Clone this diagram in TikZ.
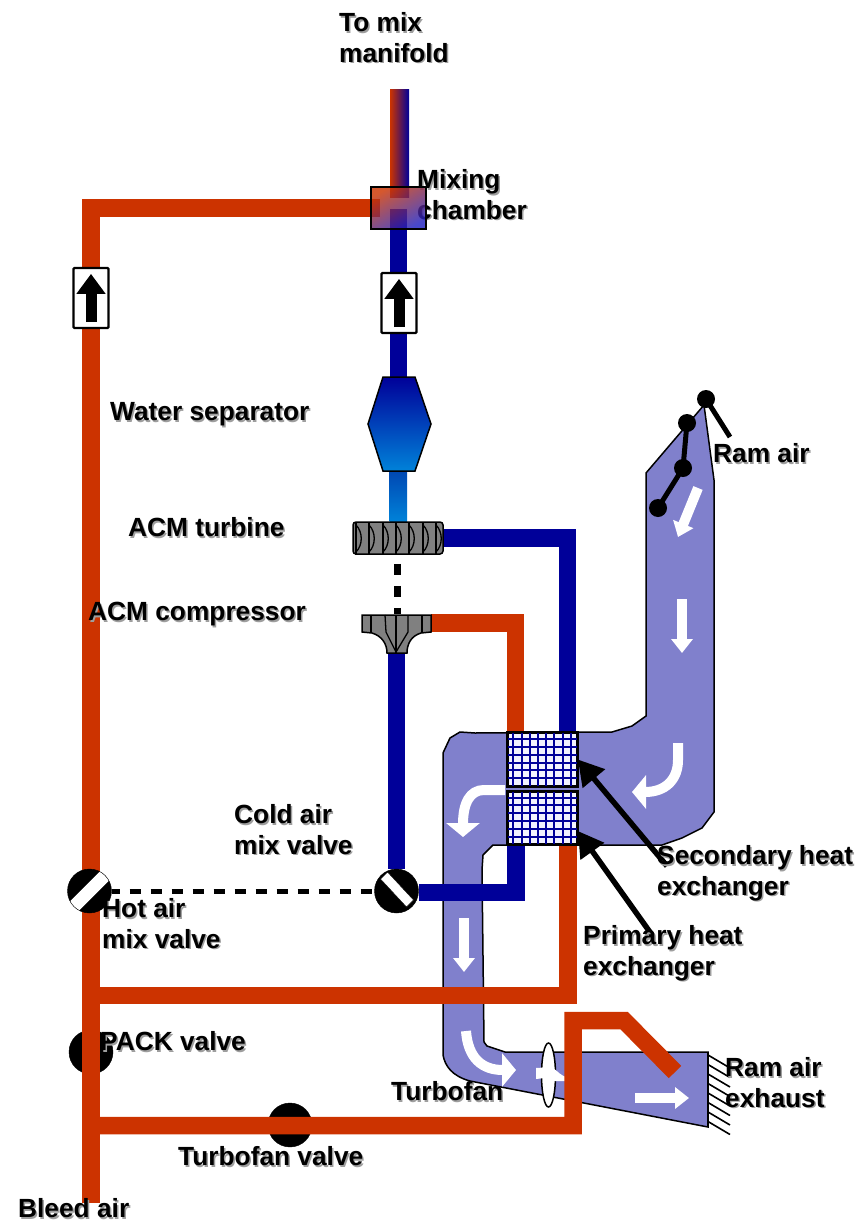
\documentclass[tikz,border=0pt]{standalone}
\usepackage{fontspec}
\setmainfont{Liberation Sans}
\usepackage{tikz}
\usetikzlibrary{arrows.meta,shapes,positioning,calc}
\definecolor{hotred}{HTML}{CC3300}
\definecolor{coldblue}{HTML}{000099}
\definecolor{mixblue}{HTML}{2020C0}
\definecolor{ductblue}{HTML}{8080CC}
\definecolor{bodygray}{HTML}{808080}
\pgfdeclarelayer{behind}
\pgfsetlayers{behind,main}
\tikzset{
  pipe/.style     = {line width=17.5pt, line join=miter},
  hotpipe/.style  = {pipe, draw=hotred},
  coldpipe/.style = {pipe, draw=coldblue},
  duct/.style     = {draw=black, fill=ductblue, line width=1.5pt},
  flow/.style     = {draw=white, line width=10pt, -{Triangle[length=14pt,width=21pt]}},
  bigflow/.style  = {draw=white, line width=10pt, -{Triangle[length=14pt,width=33pt]}},
  pointer/.style  = {draw=black, line width=5.5pt, -{Triangle[length=25pt,width=28pt]}},
  shaft/.style    = {draw=black, line width=7pt, dash pattern=on 11pt off 11pt, dash phase=13pt},
  link/.style     = {draw=black, line width=5pt, dash pattern=on 11pt off 10pt, dash phase=3pt},
  checkvalve/.style = {draw=black, fill=white, line width=2.2pt, rounded corners=1pt,
                       minimum width=35pt, minimum height=60pt, inner sep=0pt},
  checkarrow/.style = {draw=black, line width=11pt, -{Triangle[length=20pt,width=28pt]}},
  valve/.style    = {circle, draw=black, fill=black, minimum size=44pt, inner sep=0pt},
  hxcore/.style   = {draw=black, fill=white!95!blue, line width=1.8pt, minimum width=69pt,
                     minimum height=52.5pt, inner sep=0pt},
  hxgrid/.style   = {draw=coldblue, line width=2pt},
  machine/.style  = {draw=black, fill=bodygray, line width=1.5pt},
  blade/.style    = {draw=black, line width=1.3pt},
  vane/.style     = {circle, fill=black, minimum size=18pt, inner sep=0pt},
  vanearm/.style  = {draw=black, line width=5pt},
  tag/.style      = {anchor=north west, inner sep=0pt, align=left,
                     font=\fontsize{26.3}{30.5}\selectfont\bfseries}
}
% text with its soft shadow under it
\newcommand{\shadowtag}[3]{%
  \node[tag, text=black!38, xshift=1.5pt, yshift=-1.5pt] (#1shadow) at (#2) {\rule{0pt}{.7\baselineskip}#3};
  \node[tag] (#1) at (#2) {\rule{0pt}{.7\baselineskip}#3};
}

\begin{document}
\begin{tikzpicture}[x=1pt, y=-1pt]
\useasboundingbox (0,0) rectangle (862,1223);

% fixed points of the hot air line
\coordinate (bleed) at (91,1203);
\coordinate (hotcorner) at (91,208);
\coordinate (hotbranch) at (91,995.5);
\coordinate (hottee) at (91,1125.5);
\coordinate (fanbend) at (573,1020.5);
\coordinate (fankink) at (624,1020.5);
\coordinate (fanoutlet) at (675,1072);
\coordinate (manifold) at (399.5,89);
\coordinate (secondarytail) at (667,866);
\coordinate (primarytail) at (652,935);

% the parts along the cold line
\node[draw=none, minimum width=55pt, minimum height=42pt] (chamber) at (398.5,208) {};
\node[checkvalve] (checkcold) at (399,303) {};
\node[checkvalve] (checkhot) at (91,298) {};
\node[minimum width=63pt, minimum height=94pt, inner sep=0pt] (separator) at (398.5,424) {};
\node[machine, rounded corners=3pt, minimum width=90pt, minimum height=32pt, inner sep=0pt] (turbine) at (398,538) {};
\node[minimum width=69pt, minimum height=17pt, inner sep=0pt] (compressor) at (396.5,623) {};
\node[valve, path picture={\fill[white, draw=black] ([shift={(-16,-12)}]path picture bounding box.center)
    -- ([shift={(-9,-19)}]path picture bounding box.center) -- ([shift={(17,9)}]path picture bounding box.center)
    -- ([shift={(10,16)}]path picture bounding box.center) -- cycle;}] (coldvalve) at (396.5,891) {};
\node[valve, path picture={\draw[white, line width=13pt] (path picture bounding box.south west)
    -- (path picture bounding box.north east);}] (hotvalve) at (89.5,891) {};
\node[hxcore] (hxsecondary) at (542.5,759.5) {};
\node[hxcore] (hxprimary) at (542.5,818) {};

% grid of both heat exchangers
\foreach \core in {hxsecondary,hxprimary} {
  \foreach \i in {1,...,8}
    \draw[hxgrid] ($(\core.north west)+(\i*8.2-2,0)$) -- ($(\core.south west)+(\i*8.2-2,0)$);
  \foreach \j in {1,...,6}
    \draw[hxgrid] ($(\core.north west)+(0,\j*7.8-1)$) -- ($(\core.north east)+(0,\j*7.8-1)$);
  \draw[draw=black, line width=1.8pt] (\core.north west) rectangle (\core.south east);
}

% check valve arrows
\draw[checkarrow] ($(checkcold.south)+(0,-7)$) -- ($(checkcold.north)+(0,7)$);
\draw[checkarrow] ($(checkhot.south)+(0,-7)$) -- ($(checkhot.north)+(0,7)$);

% water separator body
\shade[top color=coldblue, bottom color=cyan!60!blue!85!black, draw=black, line width=1.5pt]
  (383,377) -- (415,377) -- (431,424) -- (415,471) -- (383,471) -- (368,424) -- cycle;

% turbine blades
\foreach \bx in {356,369,383,396,409,423,436} {
  \draw[blade] (\bx,522) -- (\bx,555);
  \draw[blade] (\bx,525) .. controls (\bx+7,532) and (\bx+7,545) .. (\bx,552);
}

% compressor body
\draw[machine] (362,615) -- (431,615) -- (431,632) -- (421,633)
  .. controls (411,636) and (407,644) .. (407,653) -- (387,653)
  .. controls (387,644) and (382,636) .. (372,633) -- (362,632) -- cycle;
\draw[blade] (371,615) -- (371,633);
\draw[blade] (422,615) -- (422,633);
\draw[blade] (396,653) -- (396,615);
\draw[blade] (396,652) -- (386,632) -- (385,615);
\draw[blade] (396,652) -- (408,632) -- (408,615);

% dashed links
\draw[shaft] (turbine.south -| 397,0) -- (compressor.north -| 397,0);
\draw[link] (hotvalve.east) -- (coldvalve.west);

% ram air inlet flap
\node[vane] (flapa) at (706,399) {};
\node[vane] (flapb) at (687,423) {};
\node[vane] (flapc) at (683,468) {};
\node[vane] (flapd) at (658,508) {};
\coordinate (flaptail) at (730,437);
\draw[vanearm] (flapa.center) -- (flaptail);
\draw[vanearm] (flapb.center) -- (flapc.center) -- (flapd.center);

% pointers to the heat exchangers
\draw[pointer] (secondarytail) -- (hxsecondary.east);
\draw[pointer] (primarytail) -- ($(hxprimary.east)+(0,13)$);

% labels
\shadowtag{tomix}{339,10}{To mix\\manifold}
\shadowtag{mixing}{417,167}{Mixing\\chamber}
\shadowtag{watersep}{110,399}{Water separator}
\shadowtag{acmturbine}{128,515}{ACM turbine}
\shadowtag{acmcomp}{88,599}{ACM compressor}
\shadowtag{coldmix}{234,802}{Cold air\\mix valve}
\shadowtag{hotmix}{102,896}{Hot air\\mix valve}
\shadowtag{pack}{100,1029}{PACK valve}
\shadowtag{fanvalve}{178,1144}{Turbofan valve}
\shadowtag{bleedair}{18,1196}{Bleed air}
\shadowtag{turbofan}{391,1079}{Turbofan}
\shadowtag{ramair}{713,441}{Ram air}
\shadowtag{ramexhaust}{725,1055}{Ram air\\exhaust}
\shadowtag{secondary}{657,843}{Secondary heat\\exchanger}
\shadowtag{primary}{583,923}{Primary heat\\exchanger}

% mixing chamber goes over its label
\node[left color=hotred, right color=mixblue, shading angle=30, fill opacity=.82,
  minimum width=55pt, minimum height=42pt] (chamberbody) at (chamber) {};
\draw[draw=black, line width=2pt] (chamber.north west) rectangle (chamber.south east);

\begin{pgfonlayer}{behind}
% ram air duct
\draw[duct] (704,405) -- (646,473) -- (646,716) -- (632,726) -- (612,732) -- (475,733)
  -- (460,732) -- (450,738) -- (443,753) -- (443,1055)
  .. controls (445,1066) and (452,1076) .. (470,1081) -- (708,1127) -- (708,1052) -- (505,1052)
  -- (487,1046) -- (484,1042) -- (482,870) -- (483,855) -- (493,845) -- (662,845)
  -- (682,838) -- (702,828) -- (714,812) -- (714,480) -- cycle;
\draw[draw=black, line width=2pt] (708,1052) -- (708,1127);
\foreach \hy in {1055,1064.5,...,1123}
  \draw[draw=black, line width=1.6pt] (708,\hy) -- (730,\hy+13);

% white flow arrows
\draw[flow] (698,488) -- (678,537);
\draw[flow] (682,599) -- (682,653);
\draw[bigflow] (678,743) -- (678,760) .. controls (678,780) and (665,792) .. (632,792);
\draw[bigflow] (505,790) -- (484,790) .. controls (470,790) and (463,803) .. (463,837);
\draw[flow] (464,918) -- (464,972);
\draw[bigflow] (466,1031) .. controls (468,1058) and (482,1070) .. (516,1070);
\draw[flow] (635,1098) -- (689,1098);

% turbofan
\node[ellipse, draw=black, fill=white, line width=1.5pt, minimum width=14pt, minimum height=64pt, inner sep=0pt] (fan) at (548.5,1075) {};
\fill[white] (536,1068) -- (552,1067) .. controls (558,1072) and (562,1076) .. (566,1077)
  -- (566,1081) -- (552,1081) -- (545,1078) -- (536,1079) -- cycle;

% closed shape valves under the hot line
\node[valve] (packvalve) at (91,1052) {};
\node[valve] (fanbypass) at (290,1125) {};

% hot air lines
\draw[hotpipe] (bleed) -- (hotcorner) -- ($(chamber.west)+(9,0)$);
\draw[hotpipe] ($(hxprimary.south east)+(-10,0)$) |- (hotbranch);
\draw[hotpipe] (hottee) -| (fanbend) -- (fankink) -- (fanoutlet);
\draw[hotpipe] (compressor.east) -| ($(hxsecondary.north west)+(8.5,0)$);

% cold air lines
\draw[coldpipe] (separator.north) -- ($(chamber.center)+(0,1)$);
\draw[coldpipe] (compressor.south) -- (coldvalve.north);
\draw[coldpipe] ($(hxprimary.south west)+(9,0)$) |- ($(coldvalve.east)+(0,1.5)$);
\draw[coldpipe] (turbine.east) -| ($(hxsecondary.north east)+(-10.5,0)$);
\shade[top color=blue!60!cyan!70!black, bottom color=cyan!60!blue!85!black]
  ($(separator.south)+(-9,0)$) rectangle ($(turbine.north)+(9,0)$);
\shade[left color=hotred, right color=coldblue]
  ($(manifold)+(-9.5,0)$) rectangle ($(chamber.north)+(10.5,11)$);
\end{pgfonlayer}
\end{tikzpicture}
\end{document}
